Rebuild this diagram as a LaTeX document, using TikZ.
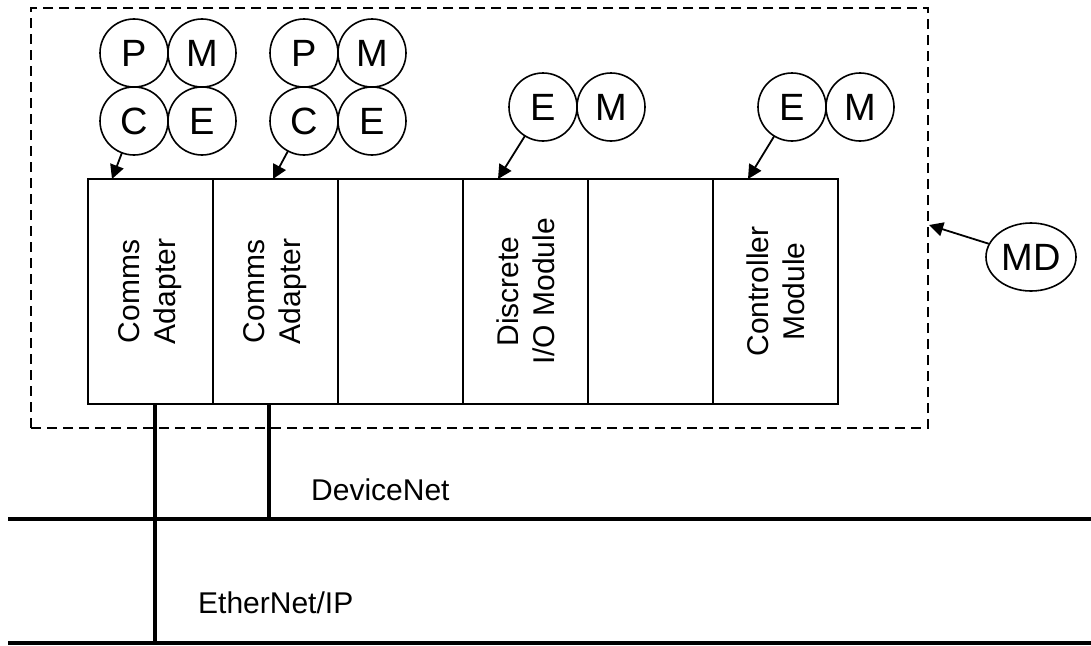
\documentclass[tikz,border=0pt]{standalone}
\usepackage{fontspec}
\setmainfont{Liberation Sans}
\usetikzlibrary{positioning,shapes.geometric,arrows.meta}
\begin{document}
\begin{tikzpicture}[x=1pt,y=-1pt,
  module/.style={draw,line width=1.8pt,minimum width=125pt,minimum height=225pt,inner sep=0pt,outer sep=0pt},
  attr/.style={draw,circle,line width=1.6pt,minimum size=68pt,inner sep=0pt,outer sep=0pt,font=\fontsize{38}{42}\selectfont},
  vtext/.style={rotate=90,align=center,font=\fontsize{30}{36}\selectfont},
  tag/.style={-{Triangle[length=14pt,width=14pt]},line width=1.8pt},
  bus/.style={line width=3.2pt},
  busname/.style={anchor=west,inner sep=0pt,font=\fontsize{30}{36}\selectfont}]
	\useasboundingbox (0,0) rectangle (1091,645);
	\node[draw,dashed,dash pattern=on 10pt off 6pt,line width=2.2pt,minimum width=897pt,minimum height=420pt] (devbox) at (479.5,218) {};
	\node[module] (m1) at (150.5,291.5) {};
	\node[module,right=0pt of m1] (m2) {};
	\node[module,right=0pt of m2] (m3) {};
	\node[module,right=0pt of m3] (m4) {};
	\node[module,right=0pt of m4] (m5) {};
	\node[module,right=0pt of m5] (m6) {};
	\node[vtext] at (m1) {Comms\\Adapter};
	\node[vtext] at (m2) {Comms\\Adapter};
	\node[vtext] at (m4) {Discrete\\I/O Module};
	\node[vtext] at (m6) {Controller\\Module};
	\node[attr] (p1) at (134,53) {P};
	\node[attr,right=0pt of p1] (mm1) {M};
	\node[attr,below=0pt of p1] (c1) {C};
	\node[attr,right=0pt of c1] (e1) {E};
	\node[attr] (p2) at (304,53) {P};
	\node[attr,right=0pt of p2] (mm2) {M};
	\node[attr,below=0pt of p2] (c2) {C};
	\node[attr,right=0pt of c2] (e2) {E};
	\node[attr] (e3) at (543,107) {E};
	\node[attr,right=0pt of e3] (mm3) {M};
	\node[attr] (e4) at (792,107) {E};
	\node[attr,right=0pt of e4] (mm4) {M};
	\node[draw,ellipse,line width=1.6pt,minimum width=90pt,minimum height=68pt,inner sep=0pt,font=\fontsize{38}{42}\selectfont] (md) at (1031,257) {MD};
	\draw[tag] (c1) -- ([xshift=24pt]m1.north west);
	\draw[tag] (c2) -- ([xshift=60pt]m2.north west);
	\draw[tag] (e3) -- ([xshift=35pt]m4.north west);
	\draw[tag] (e4) -- ([xshift=35pt]m6.north west);
	\draw[tag] (md) -- ([yshift=-7pt]devbox.east);
	\coordinate (dnw) at (8,519);
	\coordinate (dne) at (1091,519);
	\coordinate (enw) at (8,643);
	\coordinate (ene) at (1091,643);
	\draw[bus] (dnw) -- (dne);
	\draw[bus] (enw) -- (ene);
	\draw[bus] ([xshift=67pt]m1.south west) coordinate (drop1) -- (drop1 |- enw);
	\draw[bus] ([xshift=56pt]m2.south west) coordinate (drop2) -- (drop2 |- dnw);
	\node[busname] (dnlabel) at (311,490) {DeviceNet};
	\node[busname] (enlabel) at (198,603) {EtherNet/IP};
\end{tikzpicture}
\end{document}
